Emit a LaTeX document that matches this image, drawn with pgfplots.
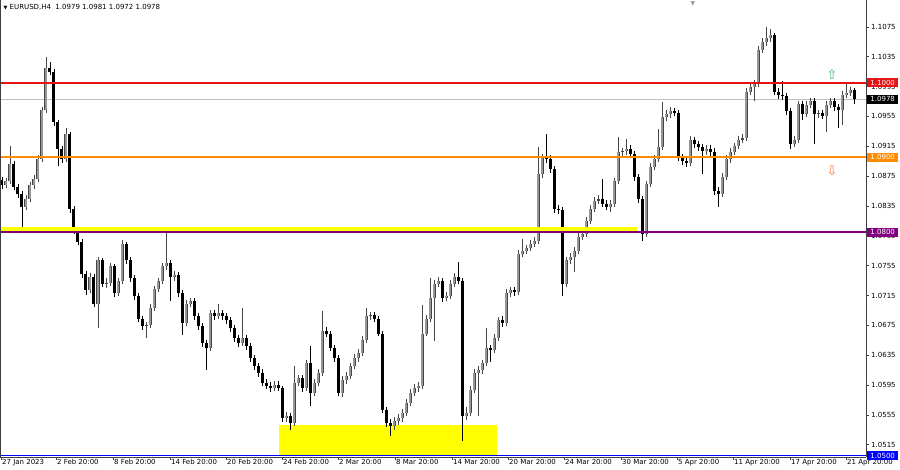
\documentclass[border=0pt]{standalone}
\usepackage{fontspec}
\setmainfont{DejaVu Sans}
\usepackage{pgfplots}
\usepackage{pgfplotstable}
\pgfplotsset{compat=1.18}

\definecolor{mtred}{RGB}{228,20,20}
\definecolor{mtorange}{HTML}{FF8C00}
\definecolor{mtpurple}{RGB}{128,0,128}
\definecolor{mtblue}{RGB}{0,0,255}
\definecolor{mtyellow}{RGB}{255,255,0}
\definecolor{bullgray}{RGB}{150,150,150}
\definecolor{bulledge}{RGB}{70,70,70}
\definecolor{uparrow}{RGB}{60,179,113}
\definecolor{dnarrow}{RGB}{240,120,60}

% EURUSD candles, x = horizontal position on the chart
\pgfplotstableread{
x o h l c
2 1.0870 1.0874 1.0858 1.0863
6 1.0863 1.0872 1.0859 1.0868
10 1.0868 1.0915 1.0865 1.0891
14 1.0891 1.0895 1.0856 1.0860
18 1.0860 1.0864 1.0846 1.0851
22 1.0851 1.0855 1.0804 1.0834
26 1.0834 1.0849 1.0830 1.0844
30 1.0844 1.0867 1.0840 1.0863
34 1.0863 1.0876 1.0858 1.0871
38 1.0871 1.0903 1.0867 1.0898
42 1.0898 1.0968 1.0894 1.0964
46 1.0964 1.1034 1.0960 1.1020
50 1.1020 1.1028 1.1010 1.1015
54 1.1015 1.1019 1.0942 1.0947
58 1.0947 1.0950 1.0888 1.0911
62 1.0911 1.0915 1.0893 1.0898
66 1.0898 1.0940 1.0894 1.0931
70 1.0931 1.0934 1.0826 1.0831
74 1.0831 1.0835 1.0797 1.0802
78 1.0802 1.0806 1.0782 1.0787
82 1.0787 1.0791 1.0739 1.0744
86 1.0744 1.0748 1.0716 1.0722
90 1.0722 1.0745 1.0718 1.0740
94 1.0740 1.0744 1.0699 1.0704
98 1.0704 1.0767 1.0671 1.0762
102 1.0762 1.0765 1.0727 1.0731
106 1.0731 1.0738 1.0725 1.0732
110 1.0732 1.0758 1.0728 1.0754
114 1.0754 1.0757 1.0713 1.0718
118 1.0718 1.0739 1.0714 1.0734
122 1.0734 1.0789 1.0730 1.0784
126 1.0784 1.0787 1.0757 1.0762
130 1.0762 1.0766 1.0733 1.0738
134 1.0738 1.0742 1.0709 1.0714
138 1.0714 1.0718 1.0679 1.0684
142 1.0684 1.0688 1.0669 1.0674
146 1.0674 1.0680 1.0658 1.0675
150 1.0675 1.0703 1.0671 1.0698
154 1.0698 1.0728 1.0694 1.0724
158 1.0724 1.0739 1.0720 1.0734
162 1.0734 1.0758 1.0730 1.0754
166 1.0754 1.0807 1.0749 1.0758
170 1.0758 1.0762 1.0708 1.0740
174 1.0740 1.0748 1.0735 1.0743
178 1.0743 1.0747 1.0713 1.0718
182 1.0718 1.0722 1.0662 1.0678
186 1.0678 1.0709 1.0674 1.0704
190 1.0704 1.0712 1.0699 1.0707
194 1.0707 1.0711 1.0682 1.0687
198 1.0687 1.0691 1.0669 1.0674
202 1.0674 1.0678 1.0646 1.0651
206 1.0651 1.0655 1.0615 1.0644
210 1.0644 1.0695 1.0640 1.0691
214 1.0691 1.0696 1.0682 1.0687
218 1.0687 1.0704 1.0683 1.0691
222 1.0691 1.0695 1.0682 1.0687
226 1.0687 1.0692 1.0677 1.0682
230 1.0682 1.0686 1.0666 1.0671
234 1.0671 1.0675 1.0653 1.0658
238 1.0658 1.0662 1.0646 1.0651
242 1.0651 1.0698 1.0647 1.0658
246 1.0658 1.0662 1.0642 1.0647
250 1.0647 1.0651 1.0626 1.0631
254 1.0631 1.0635 1.0615 1.0620
258 1.0620 1.0624 1.0606 1.0611
262 1.0611 1.0616 1.0593 1.0598
266 1.0598 1.0603 1.0589 1.0594
270 1.0594 1.0599 1.0586 1.0591
274 1.0591 1.0600 1.0587 1.0595
278 1.0595 1.0600 1.0587 1.0591
282 1.0591 1.0594 1.0546 1.0551
286 1.0551 1.0559 1.0546 1.0554
290 1.0554 1.0558 1.0535 1.0544
294 1.0544 1.0620 1.0540 1.0598
298 1.0598 1.0609 1.0593 1.0604
302 1.0604 1.0608 1.0586 1.0591
306 1.0591 1.0629 1.0587 1.0624
310 1.0624 1.0647 1.0567 1.0584
314 1.0584 1.0603 1.0580 1.0598
318 1.0598 1.0616 1.0594 1.0611
322 1.0611 1.0694 1.0607 1.0668
326 1.0668 1.0673 1.0659 1.0664
330 1.0664 1.0668 1.0640 1.0644
334 1.0644 1.0648 1.0626 1.0631
338 1.0631 1.0635 1.0580 1.0584
342 1.0584 1.0607 1.0579 1.0602
346 1.0602 1.0612 1.0597 1.0607
350 1.0607 1.0625 1.0603 1.0620
354 1.0620 1.0636 1.0616 1.0631
358 1.0631 1.0643 1.0626 1.0638
362 1.0638 1.0660 1.0634 1.0655
366 1.0655 1.0698 1.0651 1.0687
370 1.0687 1.0693 1.0682 1.0689
374 1.0689 1.0693 1.0679 1.0684
378 1.0684 1.0688 1.0660 1.0664
382 1.0664 1.0667 1.0557 1.0562
386 1.0562 1.0566 1.0539 1.0544
390 1.0544 1.0550 1.0527 1.0540
394 1.0540 1.0552 1.0535 1.0547
398 1.0547 1.0556 1.0542 1.0551
402 1.0551 1.0563 1.0546 1.0558
406 1.0558 1.0576 1.0554 1.0571
410 1.0571 1.0589 1.0567 1.0584
414 1.0584 1.0596 1.0580 1.0591
418 1.0591 1.0599 1.0586 1.0594
422 1.0594 1.0702 1.0590 1.0664
426 1.0664 1.0689 1.0660 1.0684
430 1.0684 1.0738 1.0680 1.0711
434 1.0711 1.0736 1.0654 1.0731
438 1.0731 1.0740 1.0726 1.0735
442 1.0735 1.0739 1.0706 1.0711
446 1.0711 1.0719 1.0707 1.0714
450 1.0714 1.0736 1.0710 1.0731
454 1.0731 1.0745 1.0727 1.0740
458 1.0740 1.0760 1.0731 1.0735
462 1.0735 1.0738 1.0520 1.0554
466 1.0554 1.0566 1.0548 1.0558
470 1.0558 1.0593 1.0554 1.0588
474 1.0588 1.0616 1.0584 1.0611
478 1.0611 1.0620 1.0554 1.0615
482 1.0615 1.0629 1.0610 1.0624
486 1.0624 1.0671 1.0620 1.0644
490 1.0644 1.0649 1.0626 1.0642
494 1.0642 1.0663 1.0638 1.0658
498 1.0658 1.0686 1.0654 1.0682
502 1.0682 1.0687 1.0673 1.0678
506 1.0678 1.0723 1.0674 1.0718
510 1.0718 1.0727 1.0713 1.0722
514 1.0722 1.0726 1.0714 1.0719
518 1.0719 1.0776 1.0715 1.0771
522 1.0771 1.0790 1.0766 1.0775
526 1.0775 1.0783 1.0770 1.0778
530 1.0778 1.0789 1.0774 1.0784
534 1.0784 1.0793 1.0780 1.0788
538 1.0788 1.0914 1.0784 1.0878
542 1.0878 1.0905 1.0873 1.0900
546 1.0900 1.0931 1.0893 1.0898
550 1.0898 1.0903 1.0879 1.0884
554 1.0884 1.0888 1.0826 1.0831
558 1.0831 1.0836 1.0824 1.0829
562 1.0829 1.0833 1.0714 1.0731
566 1.0731 1.0767 1.0727 1.0762
570 1.0762 1.0772 1.0757 1.0767
574 1.0767 1.0780 1.0747 1.0775
578 1.0775 1.0799 1.0771 1.0794
582 1.0794 1.0803 1.0789 1.0798
586 1.0798 1.0820 1.0794 1.0815
590 1.0815 1.0836 1.0811 1.0831
594 1.0831 1.0847 1.0827 1.0842
598 1.0842 1.0850 1.0838 1.0844
602 1.0844 1.0871 1.0833 1.0838
606 1.0838 1.0843 1.0829 1.0834
610 1.0834 1.0843 1.0827 1.0838
614 1.0838 1.0873 1.0834 1.0868
618 1.0868 1.0927 1.0864 1.0907
622 1.0907 1.0913 1.0900 1.0908
626 1.0908 1.0925 1.0903 1.0911
630 1.0911 1.0916 1.0899 1.0904
634 1.0904 1.0908 1.0869 1.0874
638 1.0874 1.0878 1.0839 1.0844
642 1.0844 1.0848 1.0788 1.0798
646 1.0798 1.0868 1.0794 1.0864
650 1.0864 1.0892 1.0860 1.0887
654 1.0887 1.0903 1.0883 1.0898
658 1.0898 1.0938 1.0894 1.0914
662 1.0914 1.0974 1.0910 1.0954
666 1.0954 1.0964 1.0949 1.0958
670 1.0958 1.0967 1.0953 1.0962
674 1.0962 1.0966 1.0955 1.0960
678 1.0960 1.0963 1.0895 1.0900
682 1.0900 1.0905 1.0890 1.0895
686 1.0895 1.0899 1.0887 1.0892
690 1.0892 1.0929 1.0888 1.0924
694 1.0924 1.0928 1.0913 1.0918
698 1.0918 1.0922 1.0909 1.0914
702 1.0914 1.0918 1.0878 1.0908
706 1.0908 1.0916 1.0903 1.0911
710 1.0911 1.0916 1.0902 1.0907
714 1.0907 1.0912 1.0850 1.0855
718 1.0855 1.0860 1.0834 1.0851
722 1.0851 1.0879 1.0847 1.0874
726 1.0874 1.0903 1.0870 1.0898
730 1.0898 1.0912 1.0893 1.0907
734 1.0907 1.0920 1.0903 1.0915
738 1.0915 1.0929 1.0911 1.0924
742 1.0924 1.0931 1.0919 1.0926
746 1.0926 1.0993 1.0922 1.0988
750 1.0988 1.1000 1.0983 1.0994
754 1.0994 1.1004 1.0975 1.0998
758 1.0998 1.1049 1.0994 1.1044
762 1.1044 1.1060 1.1040 1.1055
766 1.1055 1.1075 1.1050 1.1060
770 1.1060 1.1072 1.1055 1.1064
774 1.1064 1.1067 1.0983 1.0988
778 1.0988 1.0993 1.0978 1.0984
782 1.0984 1.1002 1.0977 1.0982
786 1.0982 1.0986 1.0957 1.0962
790 1.0962 1.0966 1.0911 1.0918
794 1.0918 1.0929 1.0914 1.0924
798 1.0924 1.0976 1.0920 1.0971
802 1.0971 1.0975 1.0950 1.0958
806 1.0958 1.0975 1.0954 1.0970
810 1.0970 1.0980 1.0966 1.0975
814 1.0975 1.0979 1.0918 1.0958
818 1.0958 1.0964 1.0953 1.0959
822 1.0959 1.0963 1.0951 1.0956
826 1.0956 1.0975 1.0934 1.0970
830 1.0970 1.0980 1.0966 1.0975
834 1.0975 1.0979 1.0962 1.0967
838 1.0967 1.0971 1.0940 1.0964
842 1.0964 1.0989 1.0944 1.0984
846 1.0984 1.0998 1.0980 1.0987
850 1.0987 1.0995 1.0982 1.0991
854 1.0991 1.0993 1.0972 1.0978
}\candles

\begin{document}
\begin{tikzpicture}
\useasboundingbox (0pt,-13pt) rectangle (900pt,457pt);
\begin{axis}[
  at={(0pt,0pt)}, anchor=south west,
  scale only axis, width=866pt, height=457pt,
  xmin=0, xmax=866, ymin=1.04985, ymax=1.1111,
  axis x line*=bottom, axis y line*=right,
  axis line style={black!75, line width=0.8pt},
  tick align=outside, major tick length=3pt,
  tick style={black!75, line width=0.6pt},
  xtick={1,56,113,170,226,282,338,395,452,508,564,621,677,733,790,846},
  xticklabels={27 Jan 2023,2 Feb 20:00,8 Feb 20:00,14 Feb 20:00,20 Feb 20:00,24 Feb 20:00,2 Mar 20:00,8 Mar 20:00,14 Mar 20:00,20 Mar 20:00,24 Mar 20:00,30 Mar 20:00,5 Apr 20:00,11 Apr 20:00,17 Apr 20:00,21 Apr 20:00},
  xticklabel style={anchor=north west, xshift=0pt, yshift=2pt, inner sep=1pt, font=\fontsize{7}{8}\selectfont},
  ytick={1.0515,1.0555,1.0595,1.0635,1.0675,1.0715,1.0755,1.0795,1.0835,1.0875,1.0915,1.0955,1.0995,1.1035,1.1075},
  scaled y ticks=false,
  yticklabel style={anchor=west, xshift=0pt, inner sep=2pt, font=\fontsize{7}{8}\selectfont,
    /pgf/number format/fixed, /pgf/number format/fixed zerofill,
    /pgf/number format/precision=4, /pgf/number format/assume math mode=true},
]
% support zone and current price line
\fill[mtyellow] (axis cs:279,1.0500) rectangle (axis cs:497,1.0542);
\draw[black!25, line width=0.7pt] (axis cs:0,1.0978) -- (axis cs:866,1.0978);

% wicks (low to high)
\addplot[bulledge, line width=0.9pt, -, quiver={u=0, v=\thisrow{h}-\thisrow{l}},
  restrict expr to domain={\thisrow{c}-\thisrow{o}}{0:1}]
  table[x=x, y=l] {\candles};
\addplot[black, line width=0.9pt, -, quiver={u=0, v=\thisrow{h}-\thisrow{l}},
  restrict expr to domain={\thisrow{c}-\thisrow{o}}{-1:-0.00001}]
  table[x=x, y=l] {\candles};
% bodies (open to close): rising ones grey with a dark edge, falling ones black
\addplot[bulledge, line width=3pt, -, quiver={u=0, v=\thisrow{c}-\thisrow{o}},
  restrict expr to domain={\thisrow{c}-\thisrow{o}}{0:1}]
  table[x=x, y=o] {\candles};
\addplot[bullgray, line width=1.6pt, -, quiver={u=0, v=\thisrow{c}-\thisrow{o}},
  restrict expr to domain={\thisrow{c}-\thisrow{o}}{0.00025:1}]
  table[x=x, y=o] {\candles};
\addplot[black, line width=3pt, -, quiver={u=0, v=\thisrow{c}-\thisrow{o}},
  restrict expr to domain={\thisrow{c}-\thisrow{o}}{-1:-0.00001}]
  table[x=x, y=o] {\candles};

% horizontal levels
\fill[mtyellow] (axis cs:0,1.08008) rectangle (axis cs:637,1.08065);
\draw[mtpurple, line width=1.8pt] (axis cs:0,1.0800) -- (axis cs:866,1.0800);
\draw[mtorange, line width=2pt] (axis cs:0,1.0900) -- (axis cs:866,1.0900);
\draw[mtred, line width=1.8pt] (axis cs:0,1.1000) -- (axis cs:866,1.1000);
\draw[mtblue, line width=1.8pt] (axis cs:0,1.05005) -- (axis cs:866,1.05005);

\node[text=uparrow, font=\fontsize{13}{14}\selectfont] at (axis cs:832,1.1011) {⇧};
\node[text=dnarrow, font=\fontsize{13}{14}\selectfont] at (axis cs:832,1.0882) {⇩};
\node[anchor=north west, inner sep=0pt, font=\fontsize{7}{8}\selectfont] at (rel axis cs:0.004,0.992)
  {{\fontsize{5}{6}\selectfont▼}\ EURUSD,H4\ \ 1.0979 1.0981 1.0972 1.0978};
\node[anchor=north, inner sep=0pt, text=black!40, font=\fontsize{6}{6}\selectfont] at (axis cs:693,1.11085) {▼};

\coordinate (p1000) at (axis cs:866,1.1000);
\coordinate (p0978) at (axis cs:866,1.0978);
\coordinate (p0900) at (axis cs:866,1.0900);
\coordinate (p0800) at (axis cs:866,1.0800);
\coordinate (p0500) at (axis cs:866,1.0500);
\coordinate (tl) at (rel axis cs:0,1);
\coordinate (bl) at (rel axis cs:0,0);
\end{axis}
\draw[black!75, line width=0.8pt] (bl) -- (tl);
\tikzset{pricebox/.style={anchor=west, inner sep=0pt, minimum width=31pt, minimum height=9pt,
  text=white, font=\fontsize{7}{8}\selectfont}}
\node[pricebox, fill=mtred] at ([xshift=1pt]p1000) {1.1000};
\node[pricebox, fill=black] at ([xshift=1pt]p0978) {1.0978};
\node[pricebox, fill=mtorange] at ([xshift=1pt]p0900) {1.0900};
\node[pricebox, fill=mtpurple] at ([xshift=1pt]p0800) {1.0800};
\node[pricebox, fill=mtblue] at ([xshift=1pt]p0500) {1.0500};
\end{tikzpicture}
\end{document}
